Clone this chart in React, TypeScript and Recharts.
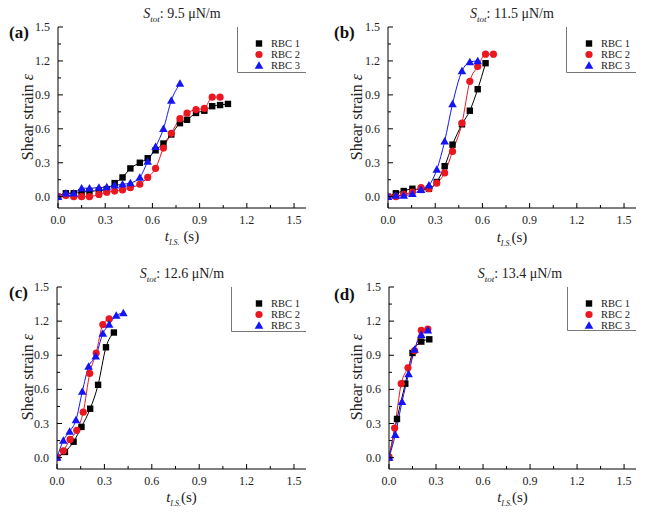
import React from 'react';
import { ComposedChart, Line, XAxis, YAxis, Legend } from 'recharts';

// time axes (s) and shear strain values
const tA = [0, 0.05, 0.1, 0.15, 0.2, 0.26, 0.31, 0.36, 0.41, 0.46, 0.52, 0.57, 0.62, 0.67, 0.72, 0.775, 0.82, 0.877, 0.93, 0.98, 1.03, 1.08];
const aRbc1 = [0, 0.03, 0.03, 0.04, 0.047, 0.055, 0.067, 0.12, 0.17, 0.25, 0.3, 0.34, 0.41, 0.47, 0.55, 0.65, 0.68, 0.74, 0.76, 0.8, 0.81, 0.82];
const aRbc2 = [0, 0.01, 0, 0, 0, 0.02, 0.04, 0.05, 0.06, 0.08, 0.11, 0.17, 0.25, 0.43, 0.56, 0.69, 0.74, 0.77, 0.78, 0.88, 0.88];
const aRbc3 = [0, 0.03, 0.03, 0.075, 0.075, 0.08, 0.085, 0.1, 0.11, 0.12, 0.17, 0.31, 0.44, 0.6, 0.85, 1.0];

const tB = [0, 0.05, 0.1, 0.155, 0.21, 0.26, 0.31, 0.36, 0.41, 0.47, 0.52, 0.57, 0.62, 0.67];
const bRbc1 = [0, 0.03, 0.05, 0.07, 0.06, 0.07, 0.13, 0.27, 0.46, 0.64, 0.76, 0.95, 1.18];
const bRbc2 = [0, 0, 0.02, 0.04, 0.08, 0.07, 0.12, 0.21, 0.4, 0.65, 1.02, 1.15, 1.26, 1.26];
const bRbc3 = [0, 0.01, 0.01, 0.025, 0.06, 0.1, 0.24, 0.49, 0.82, 1.11, 1.19, 1.2];

const tC1 = [0, 0.05, 0.105, 0.155, 0.21, 0.26, 0.31, 0.36];
const cRbc1 = [0, 0.05, 0.14, 0.27, 0.43, 0.64, 0.97, 1.1];
const tC2 = [0, 0.04, 0.083, 0.125, 0.166, 0.207, 0.248, 0.29, 0.33];
const cRbc2 = [0, 0.06, 0.16, 0.24, 0.4, 0.74, 0.92, 1.17, 1.22];
const tC3 = [0, 0.04, 0.08, 0.12, 0.16, 0.2, 0.245, 0.29, 0.33, 0.375, 0.42];
const cRbc3 = [0, 0.15, 0.23, 0.33, 0.58, 0.8, 0.89, 1.09, 1.17, 1.25, 1.27];

const tD1 = [0, 0.051, 0.104, 0.15, 0.206, 0.257];
const dRbc1 = [0, 0.34, 0.65, 0.92, 1.02, 1.04];
const tD2 = [0, 0.036, 0.078, 0.121, 0.163, 0.206, 0.248];
const dRbc2 = [0, 0.26, 0.65, 0.79, 0.94, 1.12, 1.13];
const tD3 = [0, 0.04, 0.083, 0.125, 0.163, 0.206, 0.248];
const dRbc3 = [0, 0.2, 0.49, 0.735, 0.95, 1.08, 1.12];

const seriesNames = ['RBC 1', 'RBC 2', 'RBC 3'];
const titles = ['9.5 μN/m', '11.5 μN/m', '12.6 μN/m', '13.4 μN/m'];
const letters = ['(a)', '(b)', '(c)', '(d)'];
const xTicks = [0, 0.15, 0.3, 0.45, 0.6, 0.75, 0.9, 1.05, 1.2, 1.35, 1.5];
const yTicks = [0, 0.15, 0.3, 0.45, 0.6, 0.75, 0.9, 1.05, 1.2, 1.35, 1.5];

const colors = ['#000000', '#ea1620', '#1414f5'];
const FONT = "'Liberation Serif', 'Times New Roman', serif";

const toRows = (t: number[], v: number[]) => v.map((val, i) => ({ t: t[i], v: val }));

const panelData = [
  [toRows(tA, aRbc1), toRows(tA, aRbc2), toRows(tA, aRbc3)],
  [toRows(tB, bRbc1), toRows(tB, bRbc2), toRows(tB, bRbc3)],
  [toRows(tC1, cRbc1), toRows(tC2, cRbc2), toRows(tC3, cRbc3)],
  [toRows(tD1, dRbc1), toRows(tD2, dRbc2), toRows(tD3, dRbc3)],
];

// layout of the four panels
const panels = [
  { left: 0, top: 0, w: 320, h: 250, yw: 58, mt: 27, mr: 14, xh: 42, lw: 69, lh: 46, titleX: 182, titleY: 6, letterX: 9, letterY: 23, ylabX: 28, xlabY: 228, xlabSpace: true },
  { left: 320, top: 0, w: 325, h: 250, yw: 68, mt: 27, mr: 9, xh: 42, lw: 70, lh: 46, titleX: 512, titleY: 6, letterX: 334, letterY: 23, ylabX: 357, xlabY: 229, xlabSpace: false },
  { left: 0, top: 250, w: 320, h: 266, yw: 57, mt: 37, mr: 14, xh: 47, lw: 75, lh: 45, titleX: 182, titleY: 266, letterX: 9, letterY: 283, ylabX: 28, xlabY: 489, xlabSpace: false },
  { left: 320, top: 250, w: 325, h: 266, yw: 69, mt: 37, mr: 9, xh: 47, lw: 69, lh: 44, titleX: 520, titleY: 266, letterX: 334, letterY: 285, ylabX: 357, xlabY: 489, xlabSpace: false },
];

const isMajor = (v: number) => Math.abs(v / 0.3 - Math.round(v / 0.3)) < 1e-6;

const Marker = ({ cx, cy, kind, color }: any) => {
  if (cx == null || cy == null) return null;
  if (kind === 0) return <rect x={cx - 3.2} y={cy - 3.2} width={6.4} height={6.4} fill={color} />;
  if (kind === 1) return <circle cx={cx} cy={cy} r={3.6} fill={color} />;
  return <polygon points={`${cx},${cy - 4.3} ${cx - 4.3},${cy + 3.2} ${cx + 4.3},${cy + 3.2}`} fill={color} />;
};

const BottomTick = ({ x, y, payload }: any) => {
  const major = isMajor(payload.value);
  return (
    <g>
      <line x1={x} y1={y} x2={x} y2={y - (major ? 5 : 3)} stroke="#000" />
      {major && (
        <text x={x} y={y + 16} textAnchor="middle" fill="#222" style={{ fontFamily: FONT, fontSize: 12 }}>
          {payload.value.toFixed(1)}
        </text>
      )}
    </g>
  );
};

const TopTick = ({ x, y, payload }: any) => {
  const major = isMajor(payload.value);
  return <line x1={x} y1={y} x2={x} y2={y + (major ? 5 : 3)} stroke="#000" />;
};

const LeftTick = ({ x, y, payload }: any) => {
  const major = isMajor(payload.value);
  return (
    <g>
      <line x1={x} y1={y} x2={x + (major ? 5 : 3)} y2={y} stroke="#000" />
      {major && (
        <text x={x - 8} y={y + 4} textAnchor="end" fill="#222" style={{ fontFamily: FONT, fontSize: 12 }}>
          {payload.value.toFixed(1)}
        </text>
      )}
    </g>
  );
};

const RightTick = ({ x, y, payload }: any) => {
  const major = isMajor(payload.value);
  return <line x1={x} y1={y} x2={x - (major ? 5 : 3)} y2={y} stroke="#000" />;
};

const LegendBox = ({ w, h }: any) => (
  <svg width={w} height={h} style={{ display: 'block' }}>
    <rect x={0} y={0} width={w} height={h} fill="#fff" />
    <line x1={0.5} y1={0} x2={0.5} y2={h - 0.5} stroke="#777" />
    <line x1={0.5} y1={h - 0.5} x2={w} y2={h - 0.5} stroke="#777" />
    {seriesNames.map((name, i) => {
      const cy = 16.5 + i * 11;
      return (
        <g key={name}>
          <Marker cx={w - 47} cy={cy} kind={i} color={colors[i]} />
          <text x={w - 35} y={cy + 3.5} fill="#222" style={{ fontFamily: FONT, fontSize: 10.5 }}>
            {name}
          </text>
        </g>
      );
    })}
  </svg>
);

const Panel = ({ idx }: { idx: number }) => {
  const p = panels[idx];
  const plotRight = p.w - p.mr;
  const plotCenter = p.left + (p.yw + plotRight) / 2;
  const plotMid = p.top + p.mt + (p.h - p.mt - p.xh) / 2;
  return (
    <>
      <div style={{ position: 'absolute', left: p.left, top: p.top }}>
        <ComposedChart width={p.w} height={p.h} margin={{ top: p.mt, right: p.mr, left: 0, bottom: 0 }}>
          <XAxis
            type="number"
            dataKey="t"
            domain={[0, 1.576]}
            ticks={xTicks}
            allowDataOverflow
            height={p.xh}
            tickSize={0}
            tickMargin={0}
            tickLine={false}
            axisLine={{ stroke: '#000' }}
            tick={BottomTick}
            interval={0}
          />
          <XAxis
            xAxisId="top"
            type="number"
            dataKey="t"
            orientation="top"
            domain={[0, 1.576]}
            ticks={xTicks}
            allowDataOverflow
            height={0}
            tickSize={0}
            tickMargin={0}
            tickLine={false}
            axisLine={{ stroke: '#000' }}
            tick={TopTick}
            interval={0}
          />
          <YAxis
            type="number"
            domain={[-0.1, 1.5]}
            ticks={yTicks}
            allowDataOverflow
            width={p.yw}
            tickSize={0}
            tickMargin={0}
            tickLine={false}
            axisLine={{ stroke: '#000' }}
            tick={LeftTick}
            interval={0}
          />
          <YAxis
            yAxisId="right"
            orientation="right"
            type="number"
            domain={[-0.1, 1.5]}
            ticks={yTicks}
            allowDataOverflow
            width={0}
            tickSize={0}
            tickMargin={0}
            tickLine={false}
            axisLine={{ stroke: '#000' }}
            tick={RightTick}
            interval={0}
          />
          <Legend
            layout="vertical"
            align="center"
            verticalAlign="middle"
            wrapperStyle={{ left: plotRight - p.lw, top: p.mt, width: p.lw, height: p.lh }}
            content={() => <LegendBox w={p.lw} h={p.lh} />}
          />
          {panelData[idx].map((rows, i) => (
            <Line
              key={seriesNames[i]}
              name={seriesNames[i]}
              data={rows}
              dataKey="v"
              type="monotone"
              stroke={colors[i]}
              strokeWidth={1}
              isAnimationActive={false}
              activeDot={false}
              dot={(d: any) => <Marker key={`${i}-${d.index}`} cx={d.cx} cy={d.cy} kind={i} color={colors[i]} />}
            />
          ))}
        </ComposedChart>
      </div>
      <div
        style={{
          position: 'absolute',
          left: p.titleX - 100,
          top: p.titleY,
          width: 200,
          textAlign: 'center',
          fontFamily: FONT,
          fontSize: 14,
          color: '#222',
          whiteSpace: 'nowrap',
        }}
      >
        <i>S</i>
        <sub style={{ fontSize: 9, fontStyle: 'italic' }}>tot</sub>: {titles[idx]}
      </div>
      <div
        style={{
          position: 'absolute',
          left: p.letterX,
          top: p.letterY,
          fontFamily: FONT,
          fontSize: 17,
          fontWeight: 'bold',
          color: '#111',
        }}
      >
        {letters[idx]}
      </div>
      <div
        style={{
          position: 'absolute',
          left: p.ylabX - 80,
          top: plotMid - 10,
          width: 160,
          textAlign: 'center',
          transform: 'rotate(-90deg)',
          fontFamily: FONT,
          fontSize: 16,
          color: '#222',
          whiteSpace: 'nowrap',
        }}
      >
        Shear strain <i>ε</i>
      </div>
      <div
        style={{
          position: 'absolute',
          left: plotCenter - 60,
          top: p.xlabY,
          width: 120,
          textAlign: 'center',
          fontFamily: FONT,
          fontSize: 15,
          color: '#222',
          whiteSpace: 'nowrap',
        }}
      >
        <i>t</i>
        <sub style={{ fontSize: 8, fontStyle: 'italic' }}>I.S.</sub>
        {p.xlabSpace ? ' (s)' : '(s)'}
      </div>
    </>
  );
};

export default function App() {
  return (
    <div style={{ position: 'absolute', left: 0, top: 0, width: 645, height: 516, background: '#fff', overflow: 'hidden' }}>
      {panels.map((_, i) => (
        <Panel key={i} idx={i} />
      ))}
    </div>
  );
}
